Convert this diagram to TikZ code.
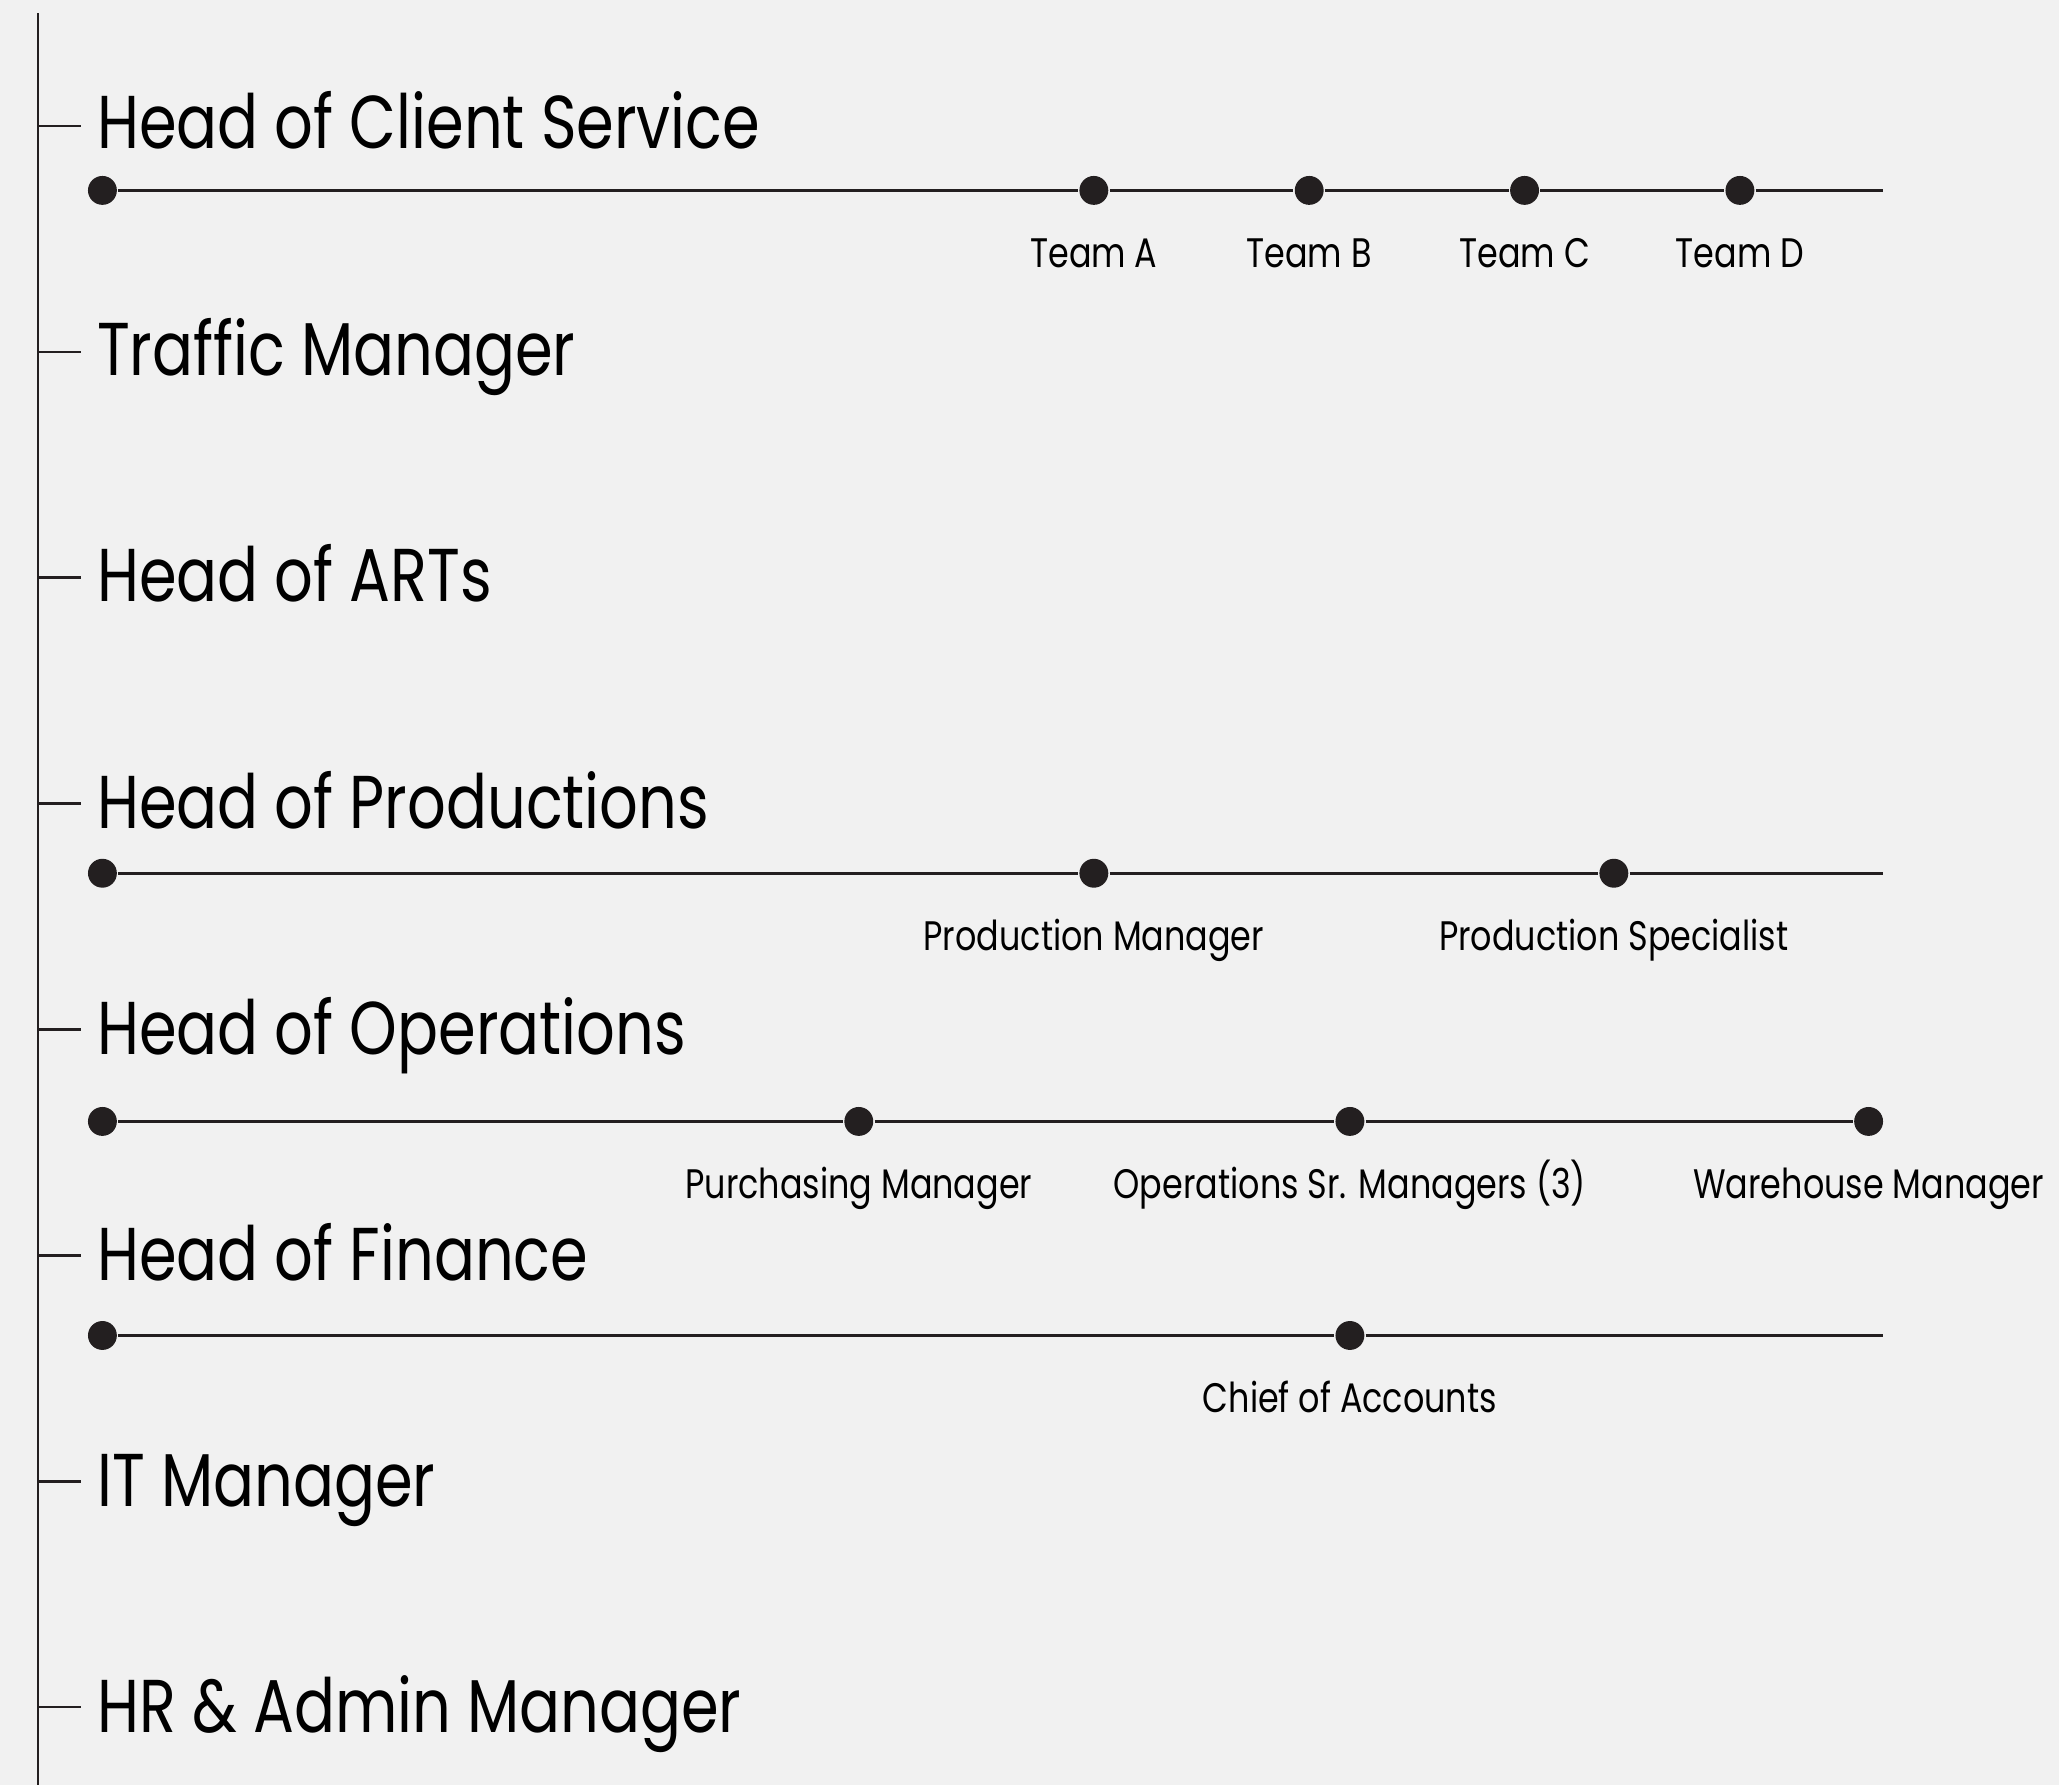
\documentclass[tikz,border=0pt]{standalone}
\usepackage{fontspec}
\setmainfont{Poppins}[FakeStretch=0.81]
\usetikzlibrary{positioning}

\definecolor{paper}{HTML}{F1F1F1}
\definecolor{ink}{HTML}{231F20}

\begin{document}
\begin{tikzpicture}[x=0.5pt,y=-0.5pt,line width=1pt,draw=ink,
                    head node/.style={anchor=base west,inner sep=0pt,font=\fontsize{28.5}{30}\selectfont},
                    dot node/.style={circle,fill=ink,inner sep=0pt,minimum size=11pt},
                    sub node/.style={inner sep=0pt,text height=12pt,text depth=3pt,font=\fontsize{15.7}{17}\selectfont}]

		\fill[paper] (0,0) rectangle (1568,1359);
		\useasboundingbox (0,0) rectangle (1568,1359);

		% spine with ticks
		\coordinate (top) at (29,10);
		\coordinate (bottom) at (29,1359);
		\draw (top) -- (bottom);
		\coordinate (t1) at (29,96);
		\coordinate (t2) at (29,268);
		\coordinate (t3) at (29,440);
		\coordinate (t4) at (29,612);
		\coordinate (t5) at (29,784);
		\coordinate (t6) at (29,956);
		\coordinate (t7) at (29,1128);
		\coordinate (t8) at (29,1300);
		\draw (t1) -- ++(33,0) (t2) -- ++(33,0) (t3) -- ++(33,0) (t4) -- ++(33,0)
		      (t5) -- ++(33,0) (t6) -- ++(33,0) (t7) -- ++(33,0) (t8) -- ++(33,0);

		\node[head node] (client) at (73,113) {Head of Client Service};
		\node[head node] (traffic) at (73,286) {Traffic Manager};
		\node[head node] (arts) at (73,458) {Head of ARTs};
		\node[head node] (prod) at (73,631) {Head of Productions};
		\node[head node] (ops) at (73,803) {Head of Operations};
		\node[head node] (fin) at (73,975) {Head of Finance};
		\node[head node] (it) at (73,1147) {IT Manager};
		\node[head node] (hr) at (73,1319) {HR \& Admin Manager};

		% client service
		\node[dot node] (c0) at (78,145) {};
		\node[dot node] (c1) at (833,145) {};
		\node[dot node] (c2) at (997,145) {};
		\node[dot node] (c3) at (1161,145) {};
		\node[dot node] (c4) at (1325,145) {};
		\coordinate (c5) at (1434,145);
		\path (c0) edge (c1) (c1) edge (c2) (c2) edge (c3) (c3) edge (c4) (c4) edge (c5);
		\node[sub node,below=11pt of c1] (teamA) {Team A};
		\node[sub node,below=11pt of c2] (teamB) {Team B};
		\node[sub node,below=11pt of c3] (teamC) {Team C};
		\node[sub node,below=11pt of c4] (teamD) {Team D};

		% productions
		\node[dot node] (p0) at (78,665) {};
		\node[dot node] (p1) at (833,665) {};
		\node[dot node] (p2) at (1229,665) {};
		\coordinate (p3) at (1434,665);
		\path (p0) edge (p1) (p1) edge (p2) (p2) edge (p3);
		\node[sub node,below=11pt of p1] (pman) {Production Manager};
		\node[sub node,below=11pt of p2] (pspec) {Production Specialist};

		% operations
		\node[dot node] (o0) at (78,854) {};
		\node[dot node] (o1) at (654,854) {};
		\node[dot node] (o2) at (1028,854) {};
		\node[dot node] (o3) at (1423,854) {};
		\path (o0) edge (o1) (o1) edge (o2) (o2) edge (o3);
		\node[sub node,below=11pt of o1] (purch) {Purchasing Manager};
		\node[sub node,below=11pt of o2] (opsr) {Operations Sr. Managers (3)};
		\node[sub node,below=11pt of o3] (ware) {Warehouse Manager};

		% finance
		\node[dot node] (f0) at (78,1017) {};
		\node[dot node] (f1) at (1028,1017) {};
		\coordinate (f2) at (1434,1017);
		\path (f0) edge (f1) (f1) edge (f2);
		\node[sub node,below=11pt of f1] (acc) {Chief of Accounts};
	\end{tikzpicture}
\end{document}
